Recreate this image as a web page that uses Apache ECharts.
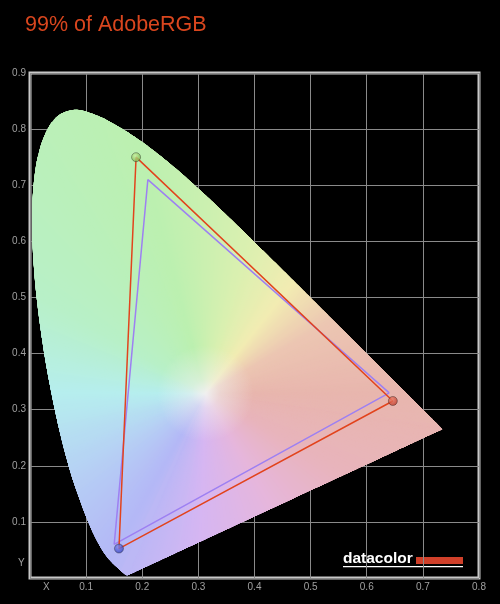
<!DOCTYPE html>
<html>
<head>
<meta charset="utf-8">
<script src="https://cdn.jsdelivr.net/npm/echarts@6/dist/echarts.min.js"></script>
<style>
html, body { margin: 0; padding: 0; background: #000; }
#chart { width: 500px; height: 604px; }
</style>
</head>
<body>
<div id="chart"></div>
<script>
// CIE 1931 2deg spectral locus, 380 -> 700 nm, 5 nm steps
var locusX = [0.1741, 0.1740, 0.1738, 0.1736, 0.1733, 0.1730, 0.1726, 0.1721, 0.1714, 0.1703,
    0.1689, 0.1669, 0.1644, 0.1611, 0.1566, 0.1510, 0.1440, 0.1355, 0.1241, 0.1096,
    0.0913, 0.0687, 0.0454, 0.0235, 0.0082, 0.0039, 0.0139, 0.0389, 0.0743, 0.1142,
    0.1547, 0.1929, 0.2296, 0.2658, 0.3016, 0.3373, 0.3731, 0.4087, 0.4441, 0.4788,
    0.5125, 0.5448, 0.5752, 0.6029, 0.6270, 0.6482, 0.6658, 0.6801, 0.6915, 0.7006,
    0.7079, 0.7140, 0.7190, 0.7230, 0.7260, 0.7283, 0.7300, 0.7311, 0.7320, 0.7327,
    0.7334, 0.7340, 0.7344, 0.7346, 0.7347];
var locusY = [0.0050, 0.0050, 0.0049, 0.0049, 0.0048, 0.0048, 0.0048, 0.0048, 0.0051, 0.0058,
    0.0069, 0.0086, 0.0109, 0.0138, 0.0177, 0.0227, 0.0297, 0.0399, 0.0578, 0.0868,
    0.1327, 0.2007, 0.2950, 0.4127, 0.5384, 0.6548, 0.7502, 0.8120, 0.8338, 0.8262,
    0.8059, 0.7816, 0.7543, 0.7243, 0.6923, 0.6589, 0.6245, 0.5896, 0.5547, 0.5202,
    0.4866, 0.4544, 0.4242, 0.3965, 0.3725, 0.3514, 0.3340, 0.3197, 0.3083, 0.2993,
    0.2920, 0.2859, 0.2809, 0.2770, 0.2740, 0.2717, 0.2700, 0.2689, 0.2680, 0.2673,
    0.2666, 0.2660, 0.2656, 0.2654, 0.2653];
var whitePoint = [0.3127, 0.3290];

// gamut triangles: red, green, blue
var adobeX = [0.64, 0.21, 0.15];
var adobeY = [0.33, 0.71, 0.06];
var measuredX = [0.6465, 0.189, 0.1585];
var measuredY = [0.3155, 0.750, 0.0525];
var markerColors = [['#ec806c', '#b83424'], ['#c8eea0', '#74b044'], ['#8088f0', '#2e3cb8']];

var xTicks = ['', '0.1', '0.2', '0.3', '0.4', '0.5', '0.6', '0.7', '0.8'];
var yTicks = ['', '0.1', '0.2', '0.3', '0.4', '0.5', '0.6', '0.7', '0.8', '0.9'];

// pastel hue by angle around the white point
var hueStops = [[0, '#e8b6ae'], [30, '#ecc6b2'], [52, '#f2ecb2'], [75, '#daf0b0'], [105, '#bcf0b0'],
    [150, '#b8f0c8'], [180, '#b6eeee'], [210, '#b6d2f4'], [240, '#b4b8f6'], [268, '#d6b6f2'],
    [300, '#e6b6dc'], [330, '#e8b4bc'], [360, '#e8b6ae']];

function rgb(h) {
    return [parseInt(h.substr(1, 2), 16), parseInt(h.substr(3, 2), 16), parseInt(h.substr(5, 2), 16)];
}
function hueAt(x, y) {
    var a = Math.atan2(y - whitePoint[1], x - whitePoint[0]) * 180 / Math.PI;
    if (a < 0) a += 360;
    for (var i = 1; i < hueStops.length; i++) {
        if (a <= hueStops[i][0]) {
            var t = (a - hueStops[i - 1][0]) / (hueStops[i][0] - hueStops[i - 1][0]);
            var c0 = rgb(hueStops[i - 1][1]), c1 = rgb(hueStops[i][1]);
            return 'rgb(' + Math.round(c0[0] + (c1[0] - c0[0]) * t) + ',' +
                Math.round(c0[1] + (c1[1] - c0[1]) * t) + ',' +
                Math.round(c0[2] + (c1[2] - c0[2]) * t) + ')';
        }
    }
    return hueStops[0][1];
}

function gap(a, b) {
    return Math.sqrt((locusX[a] - locusX[b]) * (locusX[a] - locusX[b]) + (locusY[a] - locusY[b]) * (locusY[a] - locusY[b]));
}

// one item per locus edge (last one is the line of purples):
// [prevX, prevY, x0, y0, x1, y1, nextX, nextY, farX, farY]
var n = locusX.length;
var edges = [];
for (var i = 0; i < n; i++) {
    var j = (i + 1) % n;
    var pi = i > 0 ? i - 1 : i, nj = j < n - 1 ? j + 1 : j;
    if (j === 0) { pi = i; nj = j; }
    // first vertex past the end far enough away for the overlap
    var fj = (j + 1) % n;
    while (gap(fj, j) < 0.02 && fj !== i) fj = (fj + 1) % n;
    edges.push([locusX[pi], locusY[pi], locusX[i], locusY[i], locusX[j], locusY[j],
        locusX[nj], locusY[nj], locusX[fj], locusY[fj]]);
}

function bez(p0, c1, c2, p1, t) {
    var u = 1 - t;
    return [u * u * u * p0[0] + 3 * u * u * t * c1[0] + 3 * u * t * t * c2[0] + t * t * t * p1[0],
        u * u * u * p0[1] + 3 * u * u * t * c1[1] + 3 * u * t * t * c2[1] + t * t * t * p1[1]];
}

var STEP = 0.005, OVER = 4;

function renderFan(params, api) {
    var pm = [api.value(0), api.value(1)], p0 = [api.value(2), api.value(3)];
    var p1 = [api.value(4), api.value(5)], pn = [api.value(6), api.value(7)];
    var pf = [api.value(8), api.value(9)];
    var c1 = p0, c2 = p1;
    if (params.dataIndex < n - 1) {       // smooth spectral curve
        c1 = [p0[0] + (p1[0] - pm[0]) / 6, p0[1] + (p1[1] - pm[1]) / 6];
        c2 = [p1[0] - (pn[0] - p0[0]) / 6, p1[1] - (pn[1] - p0[1]) / 6];
    }
    var len = Math.sqrt((p1[0] - p0[0]) * (p1[0] - p0[0]) + (p1[1] - p0[1]) * (p1[1] - p0[1]));
    var m = Math.max(1, Math.ceil(len / STEP));
    var s = [];
    for (var k = 0; k <= m; k++) s.push(bez(p0, c1, c2, p1, k / m));
    // run on past the end so each wedge is laid over by the following ones
    var dn = Math.sqrt((pf[0] - p1[0]) * (pf[0] - p1[0]) + (pf[1] - p1[1]) * (pf[1] - p1[1]));
    for (var q = 1; q < OVER; q++) {
        var f = dn > 0 ? Math.min(1, q * STEP / dn) : 0;
        s.push([p1[0] + (pf[0] - p1[0]) * f, p1[1] + (pf[1] - p1[1]) * f]);
    }

    var w = api.coord(whitePoint);
    var children = [];
    for (k = 0; k < m; k++) {
        var pts = [w];
        for (q = k; q <= k + OVER && q < s.length; q++) pts.push(api.coord(s[q]));
        var mx = (s[k][0] + s[k + 1][0]) / 2, my = (s[k][1] + s[k + 1][1]) / 2;
        children.push({ type: 'polygon', shape: { points: pts }, style: { fill: hueAt(mx, my) } });
    }
    return { type: 'group', children: children };
}

function renderGlow(params, api) {
    var w = api.coord([api.value(0), api.value(1)]);
    return {
        type: 'circle',
        shape: { cx: w[0], cy: w[1], r: 48 },
        style: {
            fill: {
                type: 'radial', x: w[0], y: w[1], r: 48, global: true,
                colorStops: [
                    { offset: 0, color: 'rgba(240,240,240,1)' },
                    { offset: 0.3, color: 'rgba(240,240,240,0.55)' },
                    { offset: 1, color: 'rgba(240,240,240,0)' }
                ]
            }
        }
    };
}

function closed(xs, ys) {
    var d = [];
    for (var i = 0; i <= xs.length; i++) d.push([xs[i % xs.length], ys[i % ys.length]]);
    return d;
}

var markers = measuredX.map(function (x, i) {
    return {
        value: [x, measuredY[i]],
        itemStyle: {
            color: {
                type: 'radial', x: 0.4, y: 0.35, r: 0.7,
                colorStops: [{ offset: 0, color: markerColors[i][0] }, { offset: 1, color: markerColors[i][1] }]
            },
            borderColor: 'rgba(30,30,30,0.6)',
            borderWidth: 0.8
        }
    };
});

var myChart = echarts.init(document.getElementById('chart'));
var option = {
    backgroundColor: '#000',
    animation: false,
    title: {
        text: '99% of AdobeRGB',
        left: 25,
        top: 14,
        padding: 0,
        textStyle: { color: '#d9461e', fontSize: 21.5, fontWeight: 'normal', fontFamily: 'Liberation Sans' }
    },
    grid: {
        left: 30, right: 21, top: 73, bottom: 26,
        show: true, borderColor: '#c8c8c8', borderWidth: 3
    },
    xAxis: {
        type: 'value', min: 0, max: 0.8, interval: 0.1,
        axisLine: { show: false }, axisTick: { show: false },
        splitLine: { lineStyle: { color: '#8a8a8a', width: 1 } },
        axisLabel: {
            color: '#a0a0a0', fontSize: 10, fontFamily: 'Liberation Sans', margin: 4,
            formatter: function (v) { return xTicks[Math.round(v * 10)]; }
        }
    },
    yAxis: {
        type: 'value', min: 0, max: 0.9, interval: 0.1,
        axisLine: { show: false }, axisTick: { show: false },
        splitLine: { lineStyle: { color: '#8a8a8a', width: 1 } },
        axisLabel: {
            color: '#a0a0a0', fontSize: 10, fontFamily: 'Liberation Sans', margin: 4,
            formatter: function (v) { return yTicks[Math.round(v * 10)]; }
        }
    },
    series: [
        // drawn twice so the thin wedges near the white point fully cover the black
        {
            type: 'custom', renderItem: renderFan, data: edges,
            encode: { x: [2, 4], y: [3, 5] }, z: 1, silent: true
        },
        {
            type: 'custom', renderItem: renderFan, data: edges,
            encode: { x: [2, 4], y: [3, 5] }, z: 1, silent: true
        },
        {
            type: 'custom', renderItem: renderGlow, data: [whitePoint],
            encode: { x: 0, y: 1 }, z: 2, silent: true
        },
        {
            type: 'line', data: closed(adobeX, adobeY), showSymbol: false, z: 3,
            lineStyle: { color: '#9d80f2', width: 1.5 }
        },
        {
            type: 'line', data: closed(measuredX, measuredY), showSymbol: false, z: 4,
            lineStyle: { color: '#e2431c', width: 1.5 }
        },
        {
            type: 'scatter', data: markers, symbolSize: 9, z: 5
        }
    ],
    graphic: [
        { type: 'text', left: 43, top: 582, style: { text: 'X', fill: '#a0a0a0', font: '10px "Liberation Sans"' } },
        { type: 'text', left: 18, top: 558, style: { text: 'Y', fill: '#a0a0a0', font: '10px "Liberation Sans"' } },
        { type: 'text', left: 343, top: 551, style: { text: 'datacolor', fill: '#ffffff', font: 'bold 15.5px "Liberation Sans"' } },
        { type: 'rect', left: 416, top: 557, shape: { width: 47, height: 7 }, style: { fill: '#d0402a' } },
        { type: 'rect', left: 343, top: 566, shape: { width: 120, height: 1.2 }, style: { fill: '#ffffff' } }
    ]
};
myChart.setOption(option);
</script>
</body>
</html>
